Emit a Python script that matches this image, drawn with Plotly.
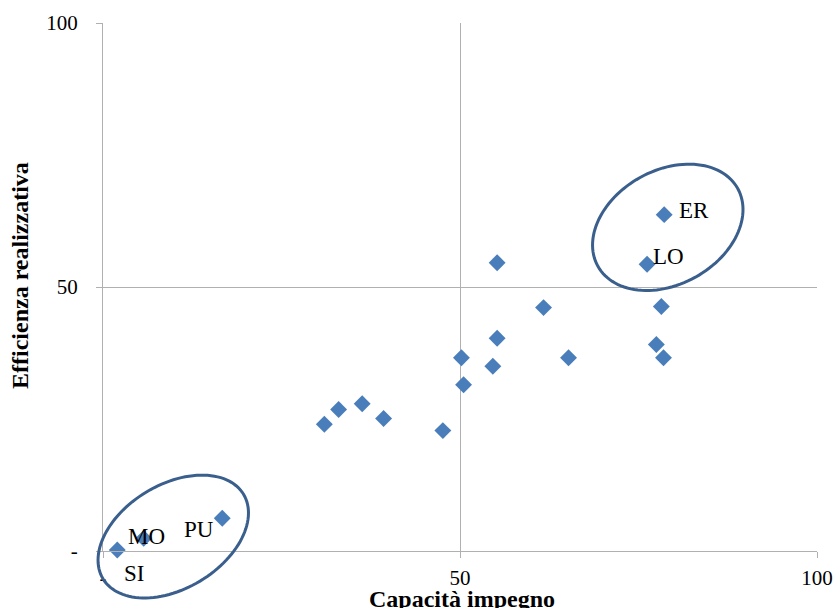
import math
import plotly.graph_objects as go

# ---- data ----
capacita = [2.0, 5.7, 16.7, 31.0, 33.0, 36.3, 39.3, 47.6, 50.2, 50.5,
            54.6, 55.2, 55.2, 61.7, 65.2, 76.2, 77.5, 78.2, 78.5, 78.6]
efficienza = [0.2, 2.4, 6.2, 24.0, 26.8, 27.9, 25.1, 22.8, 36.6, 31.5,
              35.0, 40.3, 54.6, 46.1, 36.6, 54.3, 39.1, 46.3, 36.6, 63.7]

label_names = ["ER", "LO", "MO", "PU", "SI"]
label_x = [80.4, 76.8, 3.2, 11.1, 2.7]
label_y = [64.4, 55.8, 2.8, 4.0, -4.35]

x_tickvals = [0, 50, 100]
x_ticktext = ["-", "50", "100"]
y_tickvals = [0, 50, 100]
y_ticktext = ["-", "50", "100"]

# ellipse highlights: centre (data units)
ellipse_cx = [9.84, 79.1]
ellipse_cy = [2.74, 61.3]

# ---- layout geometry ----
W, H = 835, 608
ML, MR, MT, MB = 103, 18, 23, 57
PW, PH = W - ML - MR, H - MT - MB
XR = [0, 100]
YR = [0, 100]

# ellipse shape (pixels / degrees)
ELL_A = [82, 80]
ELL_B = [52, 57]
ELL_ANG = [31, 29]

SER = "Liberation Serif, Times New Roman, serif"


def to_paper_x(v):
    return (v - XR[0]) / (XR[1] - XR[0])


def to_paper_y(v):
    return (v - YR[0]) / (YR[1] - YR[0])


fig = go.Figure()
fig.add_trace(go.Scatter(
    x=capacita, y=efficienza, mode="markers",
    marker=dict(symbol="diamond", size=13, color="#4A7EBB",
                line=dict(width=0)),
    showlegend=False, cliponaxis=False,
))

annotations = []
for n, lx, ly in zip(label_names, label_x, label_y):
    annotations.append(dict(x=to_paper_x(lx), y=to_paper_y(ly), xref="paper", yref="paper",
                            text=n, showarrow=False, xanchor="left", yanchor="middle",
                            font=dict(family=SER, size=23, color="black")))

annotations.append(dict(x=(20 - ML) / PW, y=(H - MB - 276) / PH,
                        xref="paper", yref="paper", text="<b>Efficienza realizzativa</b>",
                        textangle=-90, showarrow=False, xanchor="center", yanchor="middle",
                        font=dict(family=SER, size=24, color="black")))
annotations.append(dict(x=(462 - ML) / PW, y=(H - MB - 599) / PH,
                        xref="paper", yref="paper", text="<b>Capacità impegno</b>",
                        showarrow=False, xanchor="center", yanchor="middle",
                        font=dict(family=SER, size=24, color="black")))

shapes = []
for cx, cy, a_px, b_px, deg in zip(ellipse_cx, ellipse_cy, ELL_A, ELL_B, ELL_ANG):
    ang = math.radians(deg)
    pcx, pcy = to_paper_x(cx), to_paper_y(cy)
    pts = []
    for k in range(121):
        t = 2 * math.pi * k / 120
        dx = a_px * math.cos(t) * math.cos(ang) - b_px * math.sin(t) * math.sin(ang)
        dy = a_px * math.cos(t) * math.sin(ang) + b_px * math.sin(t) * math.cos(ang)
        pts.append((pcx + dx / PW, pcy + dy / PH))
    path = "M " + " L ".join(f"{px:.5f},{py:.5f}" for px, py in pts) + " Z"
    shapes.append(dict(type="path", xref="paper", yref="paper", path=path,
                       line=dict(color="#3A5F8C", width=3)))

axis_common = dict(
    showgrid=True, gridcolor="#B0B0B0", gridwidth=1,
    showline=True, linecolor="#B0B0B0", linewidth=1,
    ticks="outside", ticklen=6, tickcolor="#B0B0B0", tickwidth=1,
    zeroline=False, tickfont=dict(family=SER, size=21, color="black"),
    fixedrange=True, automargin=False,
)

fig.update_layout(
    width=W, height=H,
    margin=dict(l=ML, r=MR, t=MT, b=MB),
    paper_bgcolor="white", plot_bgcolor="white",
    xaxis=dict(range=XR, tickvals=x_tickvals, ticktext=x_ticktext, ticklabelstandoff=2, **axis_common),
    yaxis=dict(range=YR, tickvals=y_tickvals, ticktext=y_ticktext, ticklabelstandoff=14, **axis_common),
    annotations=annotations, shapes=shapes,
)

fig.write_html("out.html", config={"displayModeBar": False},
               post_script="document.body.style.margin='0';document.body.style.overflow='hidden';")
